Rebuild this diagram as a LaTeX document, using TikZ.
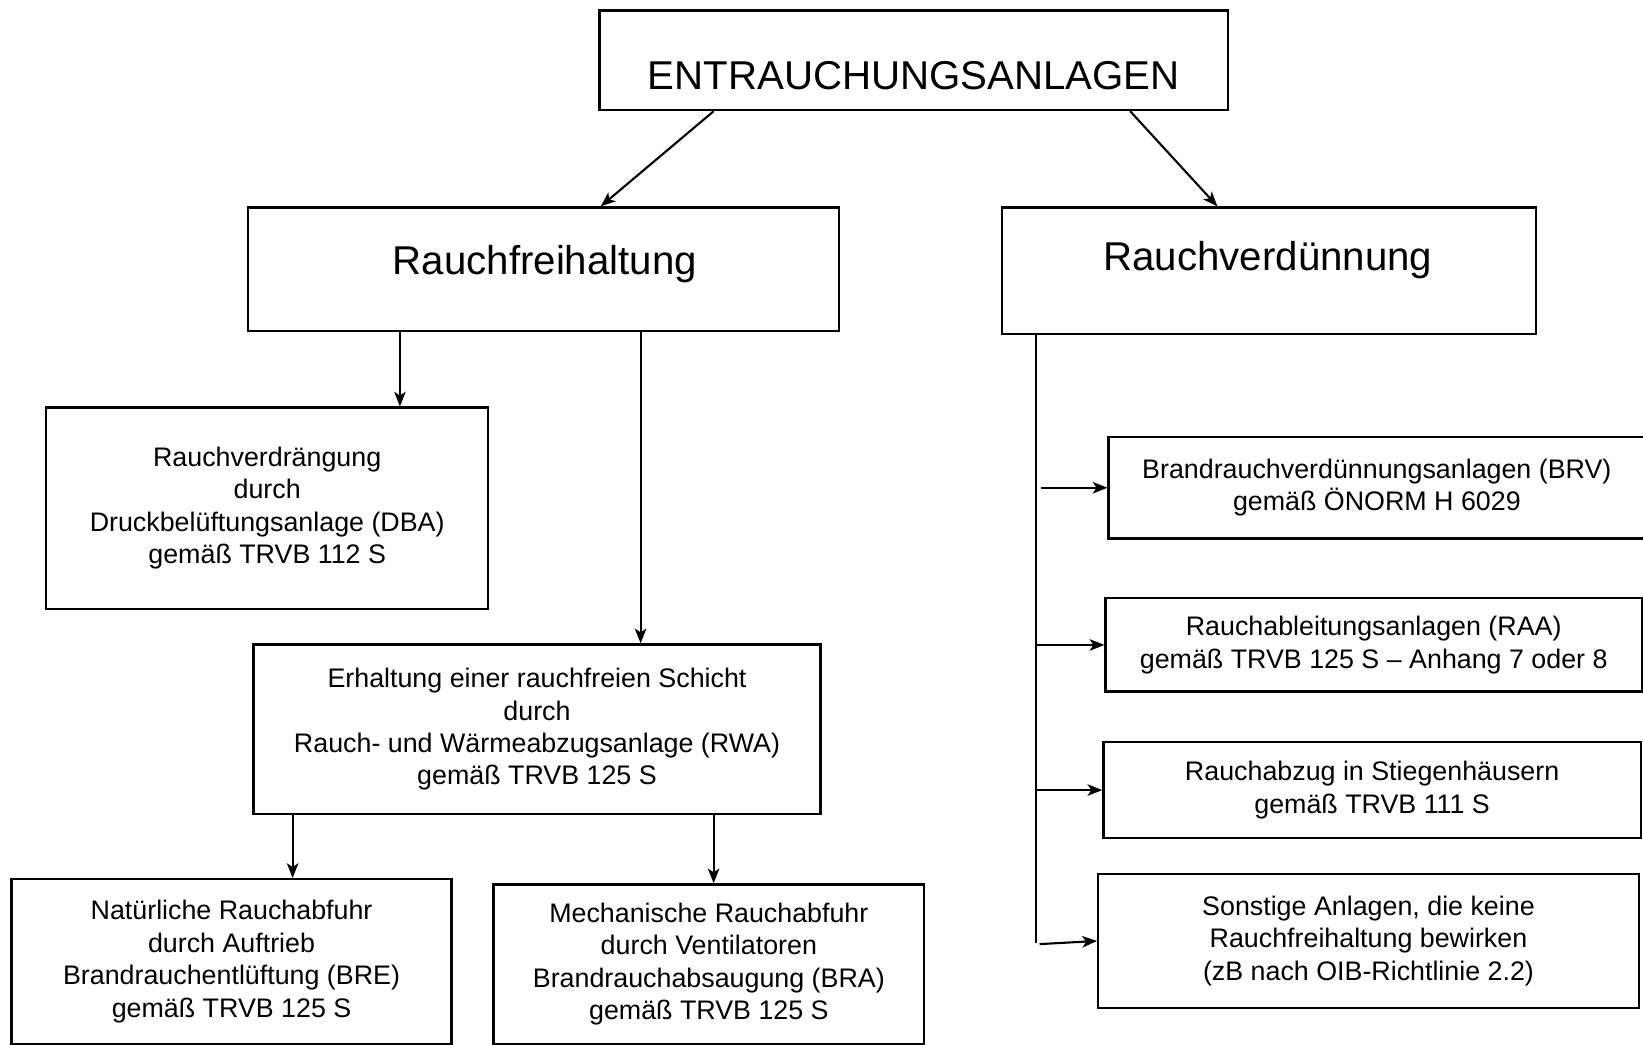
\documentclass[tikz,border=0pt]{standalone}
\usepackage{fontspec}
\setmainfont{Liberation Sans}
\usetikzlibrary{arrows.meta,calc}
\begin{document}
\begin{tikzpicture}[x=0.5pt,y=-0.5pt,
  box/.style={draw,line width=1.1pt,inner sep=0pt,align=center,font=\fontsize{12.8}{15.5}\selectfont},
  sz/.style 2 args={minimum width=#1*0.5pt,minimum height=#2*0.5pt},
  big/.style={font=\fontsize{19.2}{23}\selectfont,inner sep=0pt},
  arr/.style={line width=1pt,-{Stealth[length=7pt,width=5.5pt,inset=1.8pt]}},
  ln/.style={line width=1pt}]
\useasboundingbox[fill=white] (0,0) rectangle (1568,997);
% top level
\node[box,sz={600}{95}] (top) at (872,57.5) {};
\node[big] (toptxt) at (872,72.5) {ENTRAUCHUNGSANLAGEN};
\node[box,sz={564}{118}] (rf) at (519,257) {};
\node[big] (rftxt) at (520,252) {Rauchfreihaltung};
\node[box,sz={510}{121}] (rv) at (1211,258.5) {};
\node[big] (rvtxt) at (1210,248) {Rauchverdünnung};
% left branch
\node[box,sz={422}{192}] (dba) at (255,485) {Rauchverdrängung\\durch\\Druckbelüftungsanlage (DBA)\\gemäß TRVB 112 S};
\node[box,sz={541}{162}] (rwa) at (512.5,696) {Erhaltung einer rauchfreien Schicht\\durch\\Rauch- und Wärmeabzugsanlage (RWA)\\gemäß TRVB 125 S};
\node[box,sz={420}{157}] (bre) at (221,917.5) {Natürliche Rauchabfuhr\\durch Auftrieb\\Brandrauchentlüftung (BRE)\\gemäß TRVB 125 S};
\node[box,sz={411}{152}] (bra) at (676.5,920) {Mechanische Rauchabfuhr\\durch Ventilatoren\\Brandrauchabsaugung (BRA)\\gemäß TRVB 125 S};
% right branch
\node[box,sz={512}{97}] (brv) at (1314,465.5) {Brandrauchverdünnungsanlagen (BRV)\\gemäß ÖNORM H 6029};
\node[box,sz={512}{89}] (raa) at (1311,615.5) {Rauchableitungsanlagen (RAA)\\gemäß TRVB 125 S – Anhang 7 oder 8};
\node[box,sz={513}{92}] (rz) at (1309.5,754) {Rauchabzug in Stiegenhäusern\\gemäß TRVB 111 S};
\node[box,sz={516}{128}] (so) at (1306,898) {Sonstige Anlagen, die keine\\Rauchfreihaltung bewirken\\(zB nach OIB-Richtlinie 2.2)};
% connectors
\draw[arr] ($(top.south west)!0.183!(top.south east)$) -- ($(rf.north west)!0.596!(rf.north east)$);
\draw[arr] ($(top.south west)!0.843!(top.south east)$) -- ($(rv.north west)!0.404!(rv.north east)$);
\coordinate (c1) at ($(dba.north west)!0.7986!(dba.north east)$);
\draw[arr] (c1 |- rf.south) -- (c1);
\coordinate (c2) at ($(rwa.north west)!0.682!(rwa.north east)$);
\draw[arr] (c2 |- rf.south) -- (c2);
\coordinate (c3) at ($(bre.north west)!0.638!(bre.north east)$);
\draw[arr] (c3 |- rwa.south) -- (c3);
\coordinate (c4) at ($(bra.north west)!0.511!(bra.north east)$);
\draw[arr] (c4 |- rwa.south) -- (c4);
\coordinate (tr) at ($(rv.south west)!0.0667!(rv.south east)$);
\draw[ln] (tr) -- ($(tr |- so.west)+(0,2)$);
\draw[arr] ($(tr |- brv.west)+(4,0)$) -- (brv.west);
\draw[arr] (tr |- raa.west) -- (raa.west);
\draw[arr] (tr |- rz.west) -- (rz.west);
\draw[arr] ($(tr |- so.west)+(3,3)$) -- (so.west);
\end{tikzpicture}
\end{document}
